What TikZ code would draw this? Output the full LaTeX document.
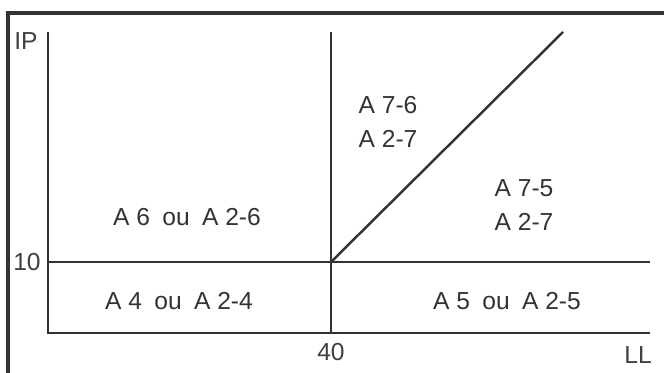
\documentclass[tikz,border=0pt]{standalone}
\usepackage{fontspec}
\setmainfont{Liberation Sans}
\usetikzlibrary{positioning, calc}

\tikzset{
    zonelabel/.style={font=\fontsize{7}{9.7}\selectfont, align=center, text=black!80, inner sep=0pt},
    axislabel/.style={font=\fontsize{7}{8}\selectfont, text=black!75, inner sep=0pt},
    limitline/.style={line width=0.7pt, draw=black!80},
}

\begin{document}
\begin{tikzpicture}
    \useasboundingbox (0,0) rectangle (6.64,3.72);
    % Frame (cut off at right and bottom)
    \draw[line width=0.9pt, black!80] (6.70,3.59) -- (0.08,3.59) -- (0.08,-0.05);

    % Axes
    \coordinate (O) at (0.48,0.39);
    \coordinate (ytop) at (0.48,3.40);
    \coordinate (xend) at (6.50,0.39);
    \draw[limitline] (ytop) -- (O) -- (xend);
    \node[axislabel] (IP) at (0.26,3.31) {IP};
    \node[axislabel] (LL) at (6.38,0.17) {LL};

    % Limits: IP = 10 and LL = 40
    \coordinate (ip10) at (0.48,1.10);
    \coordinate (ip10end) at (6.50,1.10);
    \coordinate (ll40) at (3.31,0.39);
    \coordinate (ll40top) at (3.31,3.40);
    \coordinate (corner) at (3.31,1.10);
    \coordinate (diagend) at (5.63,3.40);
    \draw[limitline] (ip10) -- (ip10end);
    \draw[limitline] (ll40) -- (ll40top);
    \draw[limitline] (corner) -- (diagend);
    \node[axislabel] (ten) at (0.27,1.10) {10};
    \node[axislabel] (forty) at (3.31,0.20) {40};

    % Groups
    \node[zonelabel] (A4) at (1.79,0.71) {A 4\enspace ou\enspace A 2-4};
    \node[zonelabel] (A5) at (5.07,0.71) {A 5\enspace ou\enspace A 2-5};
    \node[zonelabel] (A6) at (1.87,1.55) {A 6\enspace ou\enspace A 2-6};
    \node[zonelabel] (A76) at (3.88,2.50) {A 7-6\\A 2-7};
    \node[zonelabel] (A75) at (5.24,1.67) {A 7-5\\A 2-7};
\end{tikzpicture}
\end{document}
